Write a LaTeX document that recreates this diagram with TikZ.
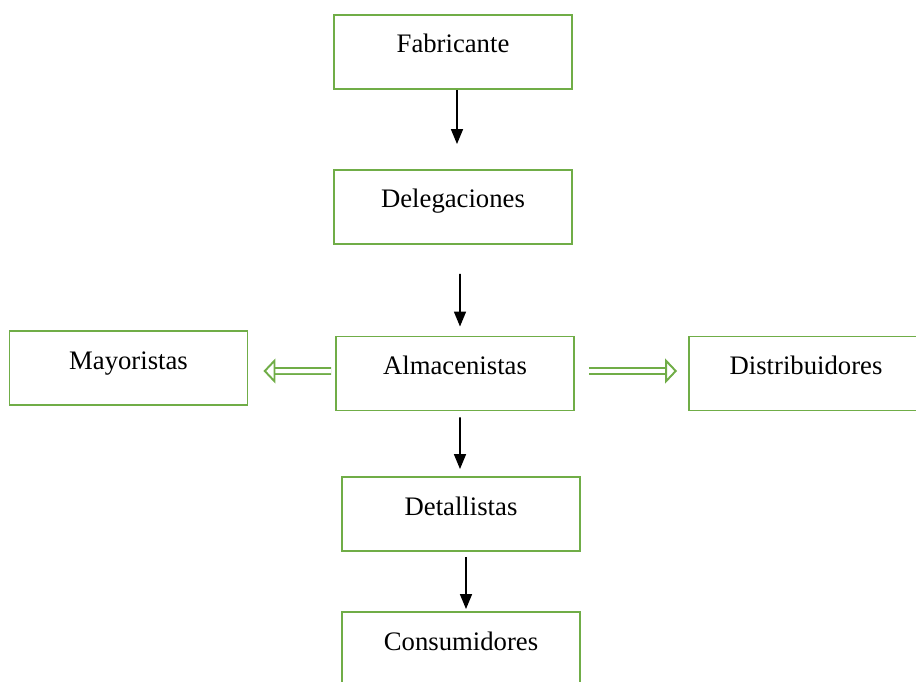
\documentclass[tikz,border=0pt]{standalone}
\usepackage{fontspec}
\setmainfont{Liberation Serif}
\usetikzlibrary{arrows.meta}
\definecolor{verde}{HTML}{70AD47}

\begin{document}
\begin{tikzpicture}[x=0.02cm, y=-0.02cm,
  every node/.style={rectangle, draw=verde, line width=1.1pt, minimum width=4.76cm, inner ysep=0pt, text height=0.76cm, text depth=0.72cm, font=\fontsize{15.2}{18}\selectfont},
  flecha/.style={-{Triangle[length=0.3cm,width=0.24cm]}, line width=0.9pt, black},
  flechaverde/.style={-{Triangle[open,length=0.24cm,width=0.5cm]}, draw=verde, double=white, double distance=0.08cm, line width=1.1pt}]

\clip (0,0) rectangle (916,682);

% Nodos
\node (fab) at (453,52) {Fabricante};
\node (del) at (453,207) {Delegaciones};
\node (alm) at (455,373.5) {Almacenistas};
\node (may) at (128.5,368) {Mayoristas};
\node[minimum width=4.68cm] (dis) at (806,373.5) {Distribuidores};
\node (det) at (461,514) {Detallistas};
\node (con) at (461,649) {Consumidores};

% Flechas
\draw[flecha, shorten >=0.5cm] ([xshift=0.08cm]fab.south) -- ([xshift=0.08cm]del.north);
\draw[flecha, shorten <=0.58cm, shorten >=0.18cm] ([xshift=0.14cm]del.south) -- ([xshift=0.1cm]alm.north);
\draw[flecha, shorten <=0.12cm, shorten >=0.14cm] ([xshift=0.1cm]alm.south) -- ([xshift=-0.02cm]det.north);
\draw[flecha, shorten <=0.1cm, shorten >=0.04cm] ([xshift=0.1cm]det.south) -- ([xshift=0.1cm]con.north);

% Flechas verdes
\draw[flechaverde, shorten <=0.08cm, shorten >=0.3cm] ([yshift=0.05cm]alm.west) -- ([yshift=-0.06cm]may.east);
\draw[flechaverde, shorten <=0.28cm, shorten >=0.22cm] ([yshift=0.05cm]alm.east) -- ([yshift=0.05cm]dis.west);

\end{tikzpicture}
\end{document}
